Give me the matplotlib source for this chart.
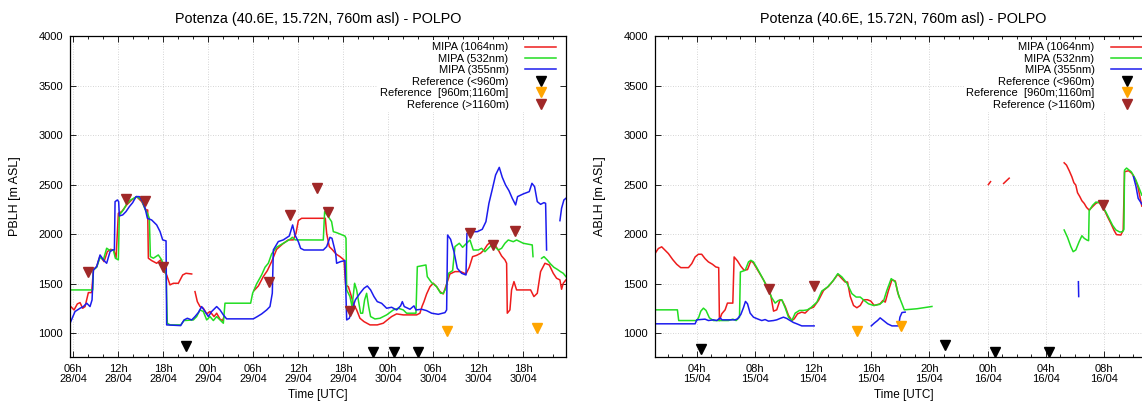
import numpy as np
import matplotlib
matplotlib.use("Agg")
import matplotlib.pyplot as plt
from matplotlib.ticker import FixedLocator, MultipleLocator

plt.rcParams['font.family'] = ['Liberation Sans', 'DejaVu Sans']

# ---- left panel (PBLH), time in hours since 28/04 00:00 UTC; None = gap ----
pb_1064 = [(5.56, 1276), (6.09, 1235), (6.53, 1296), (6.89, 1309), (7.24, 1252), (7.56, 1269), (8.0, 1410),
           (8.44, 1410), (8.67, 1639), (9.11, 1673), (9.56, 1780), (10.09, 1723), (10.53, 1824), (10.98, 1847),
           (11.42, 1834), (11.69, 1757), (12.0, 2211), (12.44, 2227), (13.11, 2295), (13.78, 2345), (14.44, 2379),
           (15.11, 2328), (15.69, 2244), (15.91, 2244), (16.0, 1757), (16.44, 1733), (17.11, 1706), (17.64, 1740),
           (18.0, 1632), (18.44, 1588), (18.89, 1488), (19.33, 1504), (20.0, 1504), (20.58, 1588), (21.02, 1605),
           (21.78, 1598), None,
           (22.22, 1420), (22.53, 1319), (22.89, 1269), (23.33, 1252), (23.78, 1195), (24.22, 1219), (24.76, 1168),
           (25.11, 1202), (25.56, 1141), (25.91, 1128), (26.09, 1168), None,
           (30.09, 1430), (30.67, 1477), (31.33, 1572), (31.87, 1632), (32.44, 1723), (33.11, 1847), (33.91, 1901),
           (34.67, 1942), (35.33, 1942), (35.69, 2009), (36.0, 2137), (36.44, 2160), (39.6, 2160), (39.78, 2008),
           (40.13, 1874), (40.58, 1840), (41.02, 1800), (41.56, 1773), (42.09, 1740), (42.31, 1487), (42.67, 1470),
           (42.98, 1396), (43.33, 1302), (43.78, 1235), (44.22, 1151), (44.76, 1117), (45.56, 1084), (46.53, 1084),
           (47.33, 1101), (47.87, 1134), (48.44, 1168), (49.11, 1195), (50.0, 1185), (51.78, 1185), (52.22, 1202),
           (52.49, 1269), (52.76, 1319), (53.11, 1396), (53.56, 1470), (54.0, 1504), (54.44, 1470), (54.89, 1420),
           (55.33, 1396), (55.78, 1497), (56.22, 1598), (56.89, 1622), (57.64, 1622), (58.36, 1598), (58.8, 1665),
           (59.24, 1773), (59.78, 1786), (60.31, 1807), (60.76, 1840), (61.2, 1891), (61.64, 1921), (62.22, 1891),
           (62.67, 1840), (63.11, 1780), (63.56, 1740), (63.78, 1706), (63.87, 1202), (64.22, 1235), (64.44, 1437),
           (64.76, 1521), (65.11, 1437), (66.98, 1437), (67.42, 1370), (67.87, 1403), (68.31, 1622), (68.89, 1706),
           (69.47, 1689), (70.0, 1605), (70.44, 1555), (70.89, 1538), (71.11, 1444), (71.33, 1504), (71.69, 1538)]

pb_532 = [(5.56, 1437), (8.58, 1437), (8.67, 1639), (9.11, 1666), (9.56, 1767), (10.0, 1740), (10.44, 1858),
          (10.89, 1834), (11.33, 1841), (11.6, 1757), (12.0, 1740), (12.13, 2194), (12.67, 2244), (13.11, 2305),
          (13.64, 2345), (14.44, 2379), (15.11, 2345), (15.56, 2251), (15.87, 2211), (16.13, 2160), (16.27, 1773),
          (16.67, 1757), (17.33, 1790), (17.78, 1740), (18.09, 1666), (18.36, 1605), (18.53, 1101), (18.89, 1084),
          (20.31, 1084), (20.76, 1128), (22.0, 1134), (22.44, 1168), (22.89, 1235), (23.33, 1219), (23.78, 1134),
          (24.22, 1168), (24.67, 1128), (25.11, 1168), (25.56, 1134), (26.0, 1101), (26.22, 1303), (29.64, 1303),
          (29.91, 1404), (30.44, 1498), (31.11, 1589), (31.56, 1666), (32.0, 1706), (32.44, 1800), (33.11, 1868),
          (34.0, 1908), (34.89, 1948), (35.2, 1968), (35.56, 1942), (39.33, 1941), (39.51, 2227), (40.0, 2176),
          (40.44, 2126), (40.67, 2025), (41.11, 2015), (42.22, 1981), (42.36, 1958), (42.45, 1437), (42.89, 1370),
          (43.16, 1269), (43.51, 1504), (43.78, 1437), (44.04, 1319), (44.31, 1202), (44.58, 1202), (44.84, 1336),
          (45.11, 1403), (45.38, 1269), (45.64, 1168), (46.22, 1144), (46.89, 1151), (47.78, 1185), (48.67, 1235),
          (49.33, 1252), (50.0, 1235), (50.44, 1202), (51.69, 1202), (51.87, 1672), (53.02, 1689), (53.2, 1571),
          (53.78, 1511), (54.44, 1471), (54.98, 1403), (55.33, 1403), (55.69, 1454), (56.04, 1605), (56.58, 1632),
          (56.89, 1874), (57.47, 1908), (57.91, 1867), (58.44, 1908), (58.89, 1941), (59.33, 1840), (60.0, 1840),
          (60.44, 1857), (60.89, 1823), (61.33, 1857), (61.78, 1891), (62.22, 1874), (62.67, 1840), (63.11, 1857),
          (63.56, 1908), (64.0, 1941), (64.67, 1924), (65.11, 1941), (66.0, 1908), (67.2, 1891), (67.3, 1773), None,
          (68.44, 1756), (68.76, 1773), (69.2, 1739), (69.64, 1699), (70.09, 1665), (70.53, 1645), (70.98, 1621),
          (71.33, 1605), (71.69, 1571)]

pb_355 = [(5.56, 1101), (6.22, 1219), (6.89, 1252), (7.33, 1269), (7.78, 1303), (8.22, 1269), (8.49, 1336),
          (8.67, 1639), (9.11, 1673), (9.56, 1790), (10.0, 1740), (10.44, 1706), (10.89, 1824), (11.24, 1841),
          (11.47, 1841), (11.56, 2328), (11.87, 2345), (12.04, 2328), (12.13, 2184), (12.58, 2194), (13.02, 2228),
          (13.47, 2278), (13.91, 2318), (14.36, 2379), (14.8, 2379), (15.24, 2328), (15.6, 2251), (15.87, 2160),
          (16.44, 2143), (17.11, 2093), (17.56, 2026), (17.91, 1942), (18.36, 1932), (18.44, 1084), (20.31, 1077),
          (20.76, 1134), (21.2, 1151), (21.78, 1134), (22.22, 1168), (22.67, 1209), (23.11, 1269), (23.56, 1219),
          (24.0, 1168), (24.44, 1219), (25.11, 1269), (25.56, 1235), (26.0, 1185), (26.44, 1145), (30.0, 1145),
          (30.53, 1168), (31.11, 1195), (31.78, 1235), (32.22, 1269), (32.53, 1404), (32.67, 1841), (33.33, 1925),
          (34.0, 1942), (34.8, 1982), (35.24, 2093), (35.56, 1991), (36.0, 1924), (36.31, 1857), (36.76, 1840),
          (39.33, 1840), (39.78, 1874), (40.22, 1968), (40.49, 1958), (40.76, 1874), (40.98, 1807), (41.11, 1706),
          (41.64, 1723), (42.22, 1733), (42.45, 1134), (42.8, 1151), (43.16, 1235), (43.6, 1336), (44.22, 1403),
          (44.76, 1454), (45.2, 1477), (45.64, 1437), (46.09, 1370), (46.53, 1319), (47.11, 1302), (47.78, 1252),
          (48.44, 1262), (49.11, 1235), (49.64, 1276), (49.87, 1319), (50.13, 1269), (50.89, 1242), (51.42, 1276),
          (51.69, 1235), (52.44, 1242), (53.11, 1228), (53.78, 1202), (54.67, 1191), (55.56, 1208), (55.78, 1235),
          (55.91, 1991), (56.31, 1948), (56.76, 1823), (57.2, 1655), (57.78, 1605), (58.36, 1588), (58.49, 2008),
          (59.11, 2025), (59.87, 2025), (60.53, 2049), (61.02, 2126), (61.42, 2311), (61.87, 2453), (62.31, 2597),
          (62.8, 2674), (63.2, 2574), (63.64, 2496), (64.09, 2439), (64.53, 2362), (64.98, 2295), (65.24, 2379),
          (66.0, 2406), (66.8, 2429), (67.16, 2513), (67.51, 2479), (67.87, 2328), (68.31, 2301), (68.76, 2318),
          (68.98, 2311), (69.11, 1840), None,
          (70.89, 2136), (71.11, 2261), (71.42, 2345), (71.69, 2362)]

pb_ref_low = [(20.98, 872), (46.0, 815), (48.7, 815), (51.9, 810)]
pb_ref_mid = [(55.8, 1023), (67.85, 1050)]
pb_ref_high = [(8.0, 1622), (12.98, 2352), (15.56, 2338), (18.0, 1666), (32.1, 1521), (34.9, 2194),
               (38.45, 2462), (39.9, 2220), (42.9, 1224), (58.9, 2015), (62.0, 1890), (64.9, 2030)]

pb_ticks = [6, 12, 18, 24, 30, 36, 42, 48, 54, 60, 66]
pb_labels = ["06h\n28/04", "12h\n28/04", "18h\n28/04", "00h\n29/04", "06h\n29/04", "12h\n29/04",
             "18h\n29/04", "00h\n30/04", "06h\n30/04", "12h\n30/04", "18h\n30/04"]

# ---- right panel (ABLH), time in hours since 15/04 00:00 UTC ----
ab_1064 = [(1.13, 1804), (1.36, 1855), (1.59, 1872), (1.82, 1838), (2.05, 1804), (2.35, 1743), (2.62, 1696),
           (2.9, 1662), (3.43, 1662), (3.66, 1703), (3.89, 1770), (4.11, 1797), (4.34, 1797), (4.57, 1753),
           (4.8, 1720), (5.08, 1696), (5.31, 1669), (5.51, 1662), (5.56, 1128), (5.72, 1196), (5.95, 1236),
           (6.11, 1304), (6.48, 1304), (6.57, 1770), (6.8, 1730), (7.03, 1676), (7.26, 1635), (7.49, 1642),
           (7.72, 1730), (7.9, 1709), (8.17, 1642), (8.54, 1551), (8.86, 1466), (9.09, 1382), (9.28, 1223),
           (9.5, 1236), (9.73, 1338), (9.87, 1331), (10.08, 1270), (10.31, 1179), (10.54, 1128), (10.7, 1145),
           (10.93, 1196), (11.22, 1213), (11.45, 1203), (11.75, 1247), (12.03, 1263), (12.37, 1331), (12.72, 1432),
           (13.06, 1473), (13.4, 1534), (13.7, 1595), (13.98, 1551), (14.2, 1517), (14.37, 1517), (14.55, 1372),
           (14.78, 1280), (15.01, 1257), (15.24, 1280), (15.47, 1338), (15.74, 1338), (15.97, 1324), (16.2, 1280),
           (16.61, 1297), (16.8, 1331), (16.96, 1314), (17.17, 1426), (17.42, 1540), (17.65, 1527), (17.81, 1415),
           (17.94, 1358), None,
           (24.05, 2500), (24.2, 2530), None,
           (25.1, 2512), (25.3, 2540), (25.48, 2565), None,
           (29.26, 2720), (29.42, 2697), (29.61, 2640), (29.79, 2579), (29.93, 2519), (30.06, 2495), (30.18, 2418),
           (30.34, 2378), (30.48, 2337), (30.64, 2310), (30.8, 2270), (30.98, 2243), (31.21, 2277), (31.44, 2310),
           (31.62, 2324), (31.78, 2304), (32.01, 2250), (32.24, 2176), (32.47, 2109), (32.7, 2035), (32.86, 1995),
           (33.16, 1991), (33.32, 2042), (33.41, 2630), (33.69, 2640), (33.92, 2613), (34.15, 2552), (34.33, 2478),
           (34.6, 2283)]

ab_532 = [(1.13, 1236), (2.67, 1236), (2.76, 1128), (4.0, 1128), (4.14, 1162), (4.28, 1223), (4.46, 1253),
          (4.64, 1230), (4.87, 1155), (5.15, 1128), (6.18, 1128), (6.48, 1142), (6.71, 1128), (6.94, 1162),
          (7.0, 1618), (7.33, 1635), (7.56, 1720), (7.72, 1736), (7.9, 1720), (8.13, 1662), (8.36, 1601),
          (8.63, 1527), (8.93, 1432), (9.16, 1358), (9.39, 1304), (9.62, 1331), (9.85, 1338), (10.08, 1257),
          (10.31, 1162), (10.54, 1128), (10.77, 1203), (11.06, 1230), (11.34, 1230), (11.61, 1236), (11.84, 1257),
          (12.26, 1314), (12.6, 1426), (12.99, 1466), (13.36, 1527), (13.7, 1601), (13.98, 1568), (14.32, 1507),
          (14.67, 1399), (14.96, 1365), (15.24, 1365), (15.51, 1331), (15.81, 1297), (16.16, 1280), (16.57, 1291),
          (16.84, 1324), (17.07, 1432), (17.37, 1551), (17.65, 1517), (17.88, 1382), (18.11, 1297), (18.27, 1236),
          (19.14, 1247), (20.17, 1270), None,
          (29.26, 2042), (29.49, 1968), (29.72, 1874), (29.88, 1823), (30.06, 1840), (30.29, 1924), (30.48, 1984),
          (30.64, 1958), (30.82, 1941), (30.94, 1934), (30.98, 2236), (31.21, 2290), (31.44, 2324), (31.67, 2317),
          (31.9, 2277), (32.13, 2223), (32.36, 2156), (32.59, 2089), (32.82, 2042), (33.09, 2021), (33.28, 2025),
          (33.37, 2048), (33.41, 2646), (33.55, 2667), (33.73, 2646), (33.87, 2630), (34.01, 2596), (34.19, 2546),
          (34.33, 2495), (34.6, 2394)]

ab_355 = [(1.13, 1095), (3.89, 1095), (4.0, 1135), (4.57, 1142), (4.8, 1128), (5.15, 1135), (5.38, 1128),
          (5.61, 1155), (5.74, 1135), (6.64, 1135), (6.8, 1145), (7.03, 1189), (7.21, 1257), (7.35, 1321),
          (7.49, 1297), (7.67, 1203), (7.9, 1162), (8.17, 1145), (8.47, 1128), (8.7, 1138), (8.93, 1122),
          (9.28, 1128), (9.5, 1135), (9.73, 1149), (9.96, 1162), (10.19, 1149), (10.42, 1128), (10.65, 1108),
          (10.88, 1095), (11.22, 1074), (12.07, 1074), None,
          (16.0, 1074), (16.2, 1101), (16.43, 1128), (16.61, 1155), (16.84, 1128), (17.12, 1095), (17.42, 1074),
          (17.88, 1074), (17.97, 1162), (18.11, 1209), (18.33, 1213), None,
          (30.24, 1520), (30.26, 1370), None,
          (34.03, 2579), (34.2, 2480), (34.35, 2361), (34.6, 2304)]

ab_ref_low = [(4.3, 842), (21.04, 885), (24.5, 812), (28.2, 812)]
ab_ref_mid = [(15.0, 1027), (18.04, 1071)]
ab_ref_high = [(8.98, 1449), (12.03, 1473), (31.9, 2294)]

ab_ticks = [4, 8, 12, 16, 20, 24, 28, 32, 36]
ab_labels = ["04h\n15/04", "08h\n15/04", "12h\n15/04", "16h\n15/04", "20h\n15/04",
             "00h\n16/04", "04h\n16/04", "08h\n16/04", "12h\n16/04"]

TITLE = "Potenza (40.6E, 15.72N, 760m asl) - POLPO"
C_RED, C_GREEN, C_BLUE = "#ee1c1c", "#22dd22", "#1c1cee"
C_LOW, C_MID, C_HIGH = "black", "#ffa500", "#a02828"


def split(pairs):
    t = [np.nan if p is None else p[0] for p in pairs]
    v = [np.nan if p is None else p[1] for p in pairs]
    return np.array(t), np.array(v)


def draw(ax, l1064, l532, l355, low, mid, high, ticks, labels, xlim, minor, ylabel):
    ax.plot(*split(l1064), color=C_RED, lw=1.1, label="MIPA (1064nm)")
    ax.plot(*split(l532), color=C_GREEN, lw=1.1, label="MIPA (532nm)")
    ax.plot(*split(l355), color=C_BLUE, lw=1.1, label="MIPA (355nm)")
    ax.plot(*split(low), "v", color=C_LOW, ms=6.5, ls="none", label="Reference (<960m)")
    ax.plot(*split(mid), "v", color=C_MID, ms=6.5, ls="none", label="Reference  [960m;1160m]")
    ax.plot(*split(high), "v", color=C_HIGH, ms=6.5, ls="none", label="Reference (>1160m)")
    ax.set_xlim(*xlim)
    ax.set_ylim(760, 4000)
    ax.xaxis.set_major_locator(FixedLocator(ticks))
    ax.set_xticklabels(labels)
    ax.xaxis.set_minor_locator(MultipleLocator(minor))
    ax.yaxis.set_major_locator(MultipleLocator(500))
    ax.tick_params(which="both", direction="in", top=True, right=True, labelsize=8, width=0.6)
    ax.tick_params(which="major", length=4.5, pad=5)
    ax.tick_params(which="minor", length=2.5)
    for lbl in ax.get_xticklabels():
        lbl.set_linespacing(1.0)
    ax.grid(True, which="major", color="#c8c8c8", linestyle=(0, (1, 2)), linewidth=0.6)
    for s in ax.spines.values():
        s.set_linewidth(0.9)
    ax.set_xlabel("Time [UTC]", fontsize=8.5)
    ax.xaxis.set_label_coords(0.5, -0.1)
    ax.set_ylabel(ylabel, fontsize=9)
    ax.yaxis.set_label_coords(-0.098, 0.5)
    ax.set_title(TITLE, fontsize=10.4, pad=9)
    leg = ax.legend(loc="upper right", bbox_to_anchor=(0.985, 0.987), markerfirst=False, fontsize=8,
                    frameon=True, fancybox=False, edgecolor="none", facecolor="white", framealpha=1,
                    handlelength=2.8, handletextpad=1.5, labelspacing=0.13, borderpad=0.2,
                    borderaxespad=0, numpoints=1)
    leg.get_frame().set_linewidth(0)


fig = plt.figure(figsize=(11.42, 4.03), dpi=100)
ax1 = fig.add_axes([70 / 1142, 46 / 403, 496 / 1142, 321 / 403])
ax2 = fig.add_axes([655 / 1142, 46 / 403, 497 / 1142, 321 / 403])

draw(ax1, pb_1064, pb_532, pb_355, pb_ref_low, pb_ref_mid, pb_ref_high,
     pb_ticks, pb_labels, (5.55, 71.7), 2, "PBLH [m ASL]")
draw(ax2, ab_1064, ab_532, ab_355, ab_ref_low, ab_ref_mid, ab_ref_high,
     ab_ticks, ab_labels, (1.13, 35.3), 1, "ABLH [m ASL]")

fig.savefig("out.png", dpi=100)
